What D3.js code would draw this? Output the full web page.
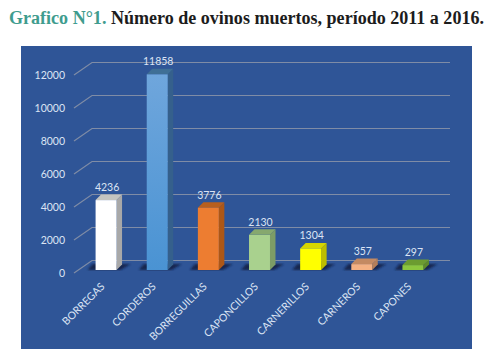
<!DOCTYPE html>
<html>
<head>
<meta charset="utf-8">
<script src="https://cdn.jsdelivr.net/npm/d3@7"></script>
<style>
    html, body { margin: 0; padding: 0; background: #fff; }
    svg { display: block; }
    .tick text, .value { font-family: Lato, "Open Sans", sans-serif; fill: #dbe4f4; }
</style>
</head>
<body>
<div class="container"></div>
<script>
var categories = ["BORREGAS", "CORDEROS", "BORREGUILLAS", "CAPONCILLOS", "CARNERILLOS", "CARNEROS", "CAPONES"];
var values = [4236, 11858, 3776, 2130, 1304, 357, 297];
var valueLabels = ["4236", "11858", "3776", "2130", "1304", "357", "297"];
var yTicks = [0, 2000, 4000, 6000, 8000, 10000, 12000];
var frontColors = ["#ffffff", "#5a9fdc", "#ed7d31", "#a9d18e", "#ffff00", "#f4b183", "#8cc63f"];
var topColors = ["#c4c4c0", "#3f6f96", "#b85f1e", "#86a86e", "#d6d600", "#c48a62", "#6c9c30"];
var sideColors = ["#a8a8a8", "#35608c", "#ad5716", "#7c9c66", "#bdbd00", "#b57f5a", "#5f8a2a"];

var width = 498, height = 361;
var depth = 5.5;

var svg = d3.select(".container").append("svg")
    .attr("width", width)
    .attr("height", height);

svg.append("text")
    .attr("x", 9)
    .attr("y", 24)
    .attr("font-family", "Liberation Serif, serif")
    .attr("font-weight", "bold")
    .attr("font-size", 18.5)
    .attr("textLength", 475)
    .attr("lengthAdjust", "spacingAndGlyphs")
    .call(function (t) {
        t.append("tspan").attr("fill", "#3f9c8e").text("Grafico N°1. ");
        t.append("tspan").attr("fill", "#1c1c1c").text("Número de ovinos muertos, período 2011 a 2016.");
    });

svg.append("rect")
    .attr("x", 21)
    .attr("y", 46)
    .attr("width", 451)
    .attr("height", 303)
    .attr("fill", "#2f5597");

var defs = svg.append("defs");
defs.append("filter").attr("id", "blur")
    .append("feGaussianBlur").attr("stdDeviation", 1);
var grad = defs.append("linearGradient").attr("id", "blueBar")
    .attr("x1", 0).attr("y1", 0).attr("x2", 0).attr("y2", 1);
grad.append("stop").attr("offset", "0%").attr("stop-color", "#6fa6dc");
grad.append("stop").attr("offset", "100%").attr("stop-color", "#4a93d3");

var x = d3.scaleBand()
    .domain(categories)
    .range([80.5, 438.5])
    .paddingInner(0.59)
    .paddingOuter(0.295);

// front plane of the axis, the back wall sits up and to the right of it
var y = d3.scaleLinear()
    .domain([0, 12000])
    .range([273, 75]);
var yBack = d3.scaleLinear()
    .domain([0, 12000])
    .range([260.5, 62.5]);
var yBar = d3.scaleLinear()
    .domain([0, 12000])
    .range([270, 72]);

var lineColor = "#7f8ca6";

// grid lines
var grid = svg.append("g").attr("fill", "none").attr("stroke", lineColor).attr("stroke-width", 1.2);
grid.selectAll("polyline")
    .data(yTicks)
    .enter()
    .append("polyline")
    .attr("points", function (d) {
        return [[74, y(d)], [92, yBack(d)], [450, yBack(d)]].join(" ");
    });

// y axis, only the labels are shown
svg.append("g")
    .attr("class", "y-axis")
    .attr("transform", "translate(73,0)")
    .call(d3.axisLeft(y).tickValues(yTicks).tickSize(0).tickPadding(8).tickFormat(d3.format("d")))
    .call(function (g) { g.select(".domain").remove(); })
    .selectAll("text")
    .attr("font-size", 10.5);

// x axis labels
svg.append("g")
    .attr("class", "x-axis")
    .attr("transform", "translate(0,282)")
    .call(d3.axisBottom(x).tickSize(0).tickPadding(0))
    .call(function (g) { g.select(".domain").remove(); })
    .selectAll("text")
    .attr("font-size", 10.5)
    .attr("text-anchor", "end")
    .attr("dy", "0.7em")
    .attr("transform", "translate(-6,0) rotate(-45)");

var bars = svg.append("g").selectAll("g")
    .data(categories)
    .enter()
    .append("g");

// floor shadows
bars.append("polygon")
    .attr("fill", "#14264f")
    .attr("filter", "url(#blur)")
    .attr("points", function (d) {
        var x0 = x(d), x1 = x0 + x.bandwidth();
        return [[x0 - 8, 270], [x0 - 3, 264], [x1 + 14, 264], [x1 + 4, 270]].join(" ");
    });

bars.append("polygon")
    .attr("fill", function (d, i) { return sideColors[i]; })
    .attr("points", function (d, i) {
        var x1 = x(d) + x.bandwidth(), top = yBar(values[i]);
        return [[x1, top], [x1 + depth, top - depth], [x1 + depth, 270 - depth], [x1, 270]].join(" ");
    });

bars.append("polygon")
    .attr("fill", function (d, i) { return topColors[i]; })
    .attr("points", function (d, i) {
        var x0 = x(d), x1 = x0 + x.bandwidth(), top = yBar(values[i]);
        return [[x0, top], [x0 + depth, top - depth], [x1 + depth, top - depth], [x1, top]].join(" ");
    });

bars.append("rect")
    .attr("x", function (d) { return x(d); })
    .attr("y", function (d, i) { return yBar(values[i]); })
    .attr("width", x.bandwidth())
    .attr("height", function (d, i) { return 270 - yBar(values[i]); })
    .attr("fill", function (d, i) { return i == 1 ? "url(#blueBar)" : frontColors[i]; });

bars.append("text")
    .attr("class", "value")
    .attr("x", function (d) { return x(d) + x.bandwidth() / 2 + 1; })
    .attr("y", function (d, i) { return yBar(values[i]) - 9; })
    .attr("text-anchor", "middle")
    .attr("font-size", 10.5)
    .text(function (d, i) { return valueLabels[i]; });
</script>
</body>
</html>
